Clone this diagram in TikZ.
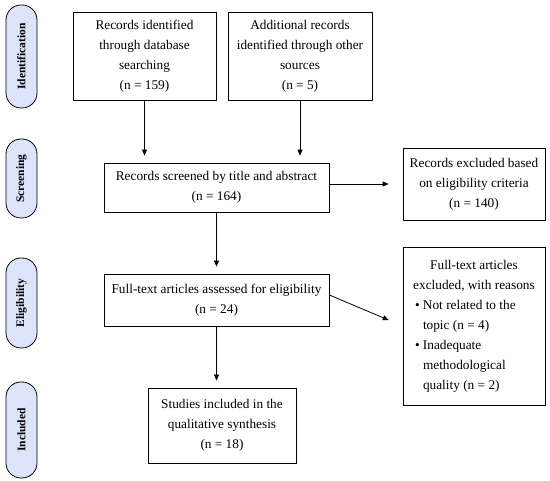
\documentclass[tikz,border=0pt]{standalone}
\usepackage{fontspec}
\setmainfont{Liberation Serif}
\usetikzlibrary{arrows.meta}
\definecolor{pill}{HTML}{DCE4FA}
\tikzset{
  box/.style={draw=black, line width=0.8pt, align=center, inner sep=3pt,
    font=\fontsize{13.3}{20}\selectfont},
  pillbox/.style={draw=black, line width=0.8pt, fill=pill, rotate=90,
    rounded corners=15pt, minimum height=31pt, inner sep=0pt,
    font=\fontsize{11.5}{14}\selectfont\bfseries},
  arr/.style={line width=0.8pt, -{Triangle[length=6pt,width=5pt]}}
}
\begin{document}
\begin{tikzpicture}[x=1pt,y=-1pt]
\useasboundingbox (0,0) rectangle (550,481);
% phase labels
\node[pillbox, minimum width=103pt] (p1) at (21.5,56.5) {Identification};
\node[pillbox, minimum width=79pt] (p2) at (21.5,178.5) {Screening};
\node[pillbox, minimum width=90pt] (p3) at (21.5,303) {Eligibility};
\node[pillbox, minimum width=96pt] (p4) at (21.5,430) {Included};
% boxes
\node[box, minimum width=143pt, minimum height=88pt] (b1) at (144.5,56)
  {Records identified\\through database\\searching\\(n = 159)};
\node[box, minimum width=144pt, minimum height=88pt] (b2) at (300,56)
  {Additional records\\identified through other\\sources\\(n = 5)};
\node[box, minimum width=225pt, minimum height=49pt] (b3) at (216.5,187.5)
  {Records screened by title and abstract\\(n = 164)};
\node[box, minimum width=142pt, minimum height=72pt] (b4) at (474,184)
  {Records excluded based\\on eligibility criteria\\(n = 140)};
\node[box, minimum width=225pt, minimum height=52pt] (b5) at (216.5,300)
  {Full-text articles assessed for eligibility\\(n = 24)};
\node[box, minimum width=142pt, minimum height=158pt, text width=134pt, align=flush left, inner sep=4pt] (b6) at (474,326)
  {\makebox[134pt][c]{Full-text articles}\\
   \makebox[134pt][c]{excluded, with reasons}\\
   \hspace*{8pt}\makebox[8pt][l]{\textbullet}Not related to the\\
   \hspace*{16pt}topic (n = 4)\\
   \hspace*{8pt}\makebox[8pt][l]{\textbullet}Inadequate\\
   \hspace*{16pt}methodological\\
   \hspace*{16pt}quality (n = 2)};
\node[box, minimum width=148pt, minimum height=75pt] (b7) at (222,425.5)
  {Studies included in the\\qualitative synthesis\\(n = 18)};
% connectors
\draw[arr, shorten >=7pt] (b1.south) -- (b1.south |- b3.north);
\draw[arr, shorten >=7pt] (b2.south) -- (b2.south |- b3.north);
\draw[arr, shorten >=14pt] (b3.east |- b4.west) -- (b4.west);
\draw[arr, shorten >=7pt] (b3.south) -- (b5.north);
\draw[arr, shorten >=15pt] ([yshift=5pt]b5.east) -- (b6.west);
\draw[arr, shorten >=7pt] (b5.south) -- (b5.south |- b7.north);
\end{tikzpicture}
\end{document}
